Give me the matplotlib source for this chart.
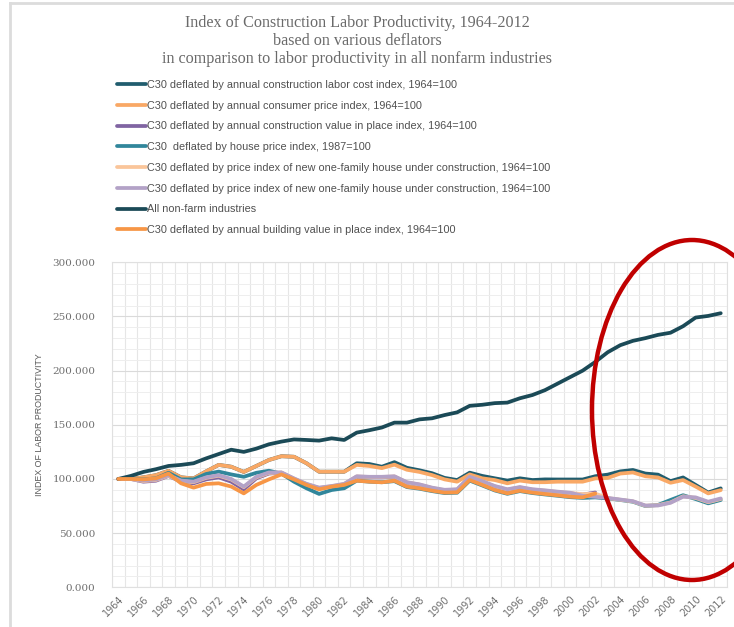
import matplotlib
matplotlib.use("Agg")
import matplotlib.pyplot as plt
from matplotlib.patches import Ellipse
from matplotlib.lines import Line2D
import numpy as np

years = list(range(1964, 2013))

labor_cost = [100, 100, 101.5, 103.5, 107.5, 101.5, 100.5, 107, 113, 111.3,
              106.5, 112, 117.5, 121, 120.5, 114.5, 106.7, 106.7, 106.7, 114.5,
              113.8, 111.3, 115.5, 110.3, 108, 105.3, 101, 99, 105.8, 102.8,
              100.6, 98.5, 100.6, 99, 99.6, 99.5, 99.5, 99.5, 102.5, 104,
              107, 108.3, 105, 104, 98, 101.4, 94.5, 87.5, 91.3]
cpi = [100, 100, 101.5, 103.5, 107.5, 101.5, 100.5, 107, 113, 111.3,
       106.5, 112, 117.5, 121, 120.5, 114.5, 106.7, 106.7, 106.7, 113,
       112, 110, 113.2, 108.5, 106.5, 103.6, 99.6, 97.5, 104.2, 100.6,
       99, 96, 98.5, 97, 97, 97.5, 97.5, 97.5, 100.5, 101,
       105, 106, 102.5, 101.4, 96.5, 99, 93, 86.7, 89.7]
value_in_place = [100, 100, 97.5, 98.4, 102.8, 97.5, 96, 99.6, 101.5, 97.5,
                  90.4, 100.6, 105, 105.8, 100, 95, 91.4, 93, 95, 102,
                  101.5, 101.5, 102, 96.5, 94.5, 91.4, 89.2, 89.8, 101.5, 97.5,
                  92.9, 89.8, 92, 89.8, 88.9, 87.7, 86.7, 85.5, 87.5] + [None] * 10
house_price = [100, 100, 99.6, 100.6, 105.7, 99.6, 99.6, 104.6, 106.8, 104.2,
               102, 105.7, 107.6, 105, 97.5, 91.4, 86.2, 89.8, 91.4, 98.5,
               97.5, 97, 98, 92.5, 91, 88.8, 87, 87.3, 98.5, 94,
               89.4, 86.3, 88.8, 87, 85.7, 84.5, 83.2, 82.5, 83, 82,
               80.6, 79, 75, 76, 80.6, 85, 81.5, 77.5, 80.6]
new_house_a = [100, 100, 98, 99, 103, 98, 97, 101, 103, 99.5,
               92.5, 101.5, 105.5, 106, 100.3, 95.3, 91.8, 93.3, 95.3, 102.3,
               101.8, 101.8, 102.3, 96.8, 94.8, 91.7, 89.6, 90.2, 101.8, 97.8,
               93.2, 90.2, 92.3, 90.2, 89.2, 88, 87, 86, 86.5, 82.3,
               80.8, 79.3, 75.3, 75.8, 78.3, 84, 82.5, 78.5, 81.5]
new_house_b = [100, 100, 98.5, 99.5, 103.5, 98.5, 97.5, 101.5, 103.5, 100,
               93, 102, 106, 106, 100.5, 95.5, 92, 93.5, 95.5, 102.5,
               102, 102, 102.5, 97, 95, 92, 90, 90.5, 102, 98,
               93.5, 90.5, 92.5, 90.5, 89.5, 88.3, 87.3, 84.5, 83.5, 82.5,
               81, 79.5, 75.5, 75.5, 78, 83.6, 83, 79, 82]
nonfarm = [100, 102.8, 106.5, 109, 112, 113, 114.5, 119, 123, 127,
           125, 128, 132, 134.5, 136.5, 136, 135.4, 137.5, 136, 142.8,
           145, 147.5, 152, 152, 155, 156, 159, 161.5, 167.5, 168.5,
           170, 170.5, 174.5, 177.5, 182, 188, 194, 200, 208, 217,
           223.5, 227.5, 230, 233, 235, 241, 249, 250.5, 253]
building_value = [100, 100, 99.6, 100.6, 105, 96, 92, 95.4, 96, 93,
                  86.7, 94.5, 99.6, 104.2, 99.6, 94.5, 90.4, 92.9, 94.5, 98.4,
                  97.5, 96.9, 98.4, 92.9, 91.4, 89.2, 87.4, 87.7, 99, 94.5,
                  89.8, 86.7, 89.2, 87.4, 86.1, 84.9, 83.6, 83, 86.5] + [None] * 10

labels = [
    "C30 deflated by annual construction labor cost index, 1964=100",
    "C30 deflated by annual consumer price index, 1964=100",
    "C30 deflated by annual construction value in place index, 1964=100",
    "C30  deflated by house price index, 1987=100",
    "C30 deflated by price index of new one-family house under construction, 1964=100",
    "C30 deflated by price index of new one-family house under construction, 1964=100",
    "All non-farm industries",
    "C30 deflated by annual building value in place index, 1964=100",
]
series = [labor_cost, cpi, value_in_place, house_price, new_house_a,
          new_house_b, nonfarm, building_value]
colors = ["#215D6E", "#F9A865", "#8064A2", "#31869B", "#FAC59A",
          "#B3A2C7", "#1B4A57", "#F79646"]

W, H = 734, 627
fig = plt.figure(figsize=(W / 100, H / 100), dpi=100)
ax = fig.add_axes([112 / W, 1 - 587.3 / H, 615 / W, 325 / H])

x = np.arange(len(years))
handles = []
for s, c, lab in zip(series, colors, labels):
    y = np.array([np.nan if v is None else v for v in s], dtype=float)
    h, = ax.plot(x, y, color=c, lw=2.7, solid_capstyle="round",
                 solid_joinstyle="round", label=lab)
    handles.append(h)

ax.set_xlim(-0.5, len(years) - 0.5)
ax.set_ylim(0, 300)
ax.set_yticks(np.arange(0, 301, 50))
ax.set_yticks(np.arange(0, 301, 10), minor=True)
ax.set_yticklabels(["%.3f" % v for v in np.arange(0, 301, 50)],
                   family="DejaVu Serif", fontsize=7.5, color="#6F6F6F")
ax.set_xticks(x[::2])
ax.set_xticklabels([str(yr) for yr in years[::2]], rotation=45, ha="right",
                   va="top", rotation_mode="anchor", fontsize=7,
                   color="#6F6F6F")
ax.set_xticks(np.arange(-0.5, len(years), 1), minor=True)
ax.tick_params(length=0, which="both")
ax.tick_params(axis="x", pad=5)
ax.tick_params(axis="y", pad=12)
ax.grid(which="major", axis="y", color="#DADADA", lw=0.8)
ax.grid(which="minor", axis="y", color="#EEEEEE", lw=0.7)
ax.grid(which="minor", axis="x", color="#E6E6E6", lw=0.8)
ax.set_axisbelow(True)
for sp in ax.spines.values():
    sp.set_color("#E0E0E0")
ax.set_ylabel("INDEX OF LABOR PRODUCTIVITY", fontsize=6.4, color="#595959",
              family="Liberation Sans", labelpad=6)

fig.text(357 / W, 1 - 41 / H,
         "Index of Construction Labor Productivity, 1964-2012\n"
         "based on various deflators\n"
         "in comparison to labor productivity in all nonfarm industries",
         ha="center", va="center", family="Liberation Serif", fontsize=11.6,
         color="#6A6A6A", linespacing=1.15)

fig.legend(handles=handles, loc="upper left",
           bbox_to_anchor=(117 / W, 1 - 80 / H), frameon=False,
           borderpad=0, borderaxespad=0, handlelength=2.7, handletextpad=0.1,
           labelspacing=0.99, labelcolor="#505050",
           prop={"family": "Liberation Sans", "size": 7.8})

fig.add_artist(Line2D([9.5 / W, 9.5 / W], [0, 1 - 2.5 / H],
                      transform=fig.transFigure, color="#DCDCDC", lw=2))
fig.add_artist(Line2D([9.5 / W, 1], [1 - 2.5 / H, 1 - 2.5 / H],
                      transform=fig.transFigure, color="#DCDCDC", lw=2))

fig.add_artist(Ellipse((692 / W, 1 - 410 / H), 200 / W, 340 / H,
                       transform=fig.transFigure, fill=False,
                       edgecolor="#C00000", lw=3.2))

fig.savefig("out.png", dpi=100)
